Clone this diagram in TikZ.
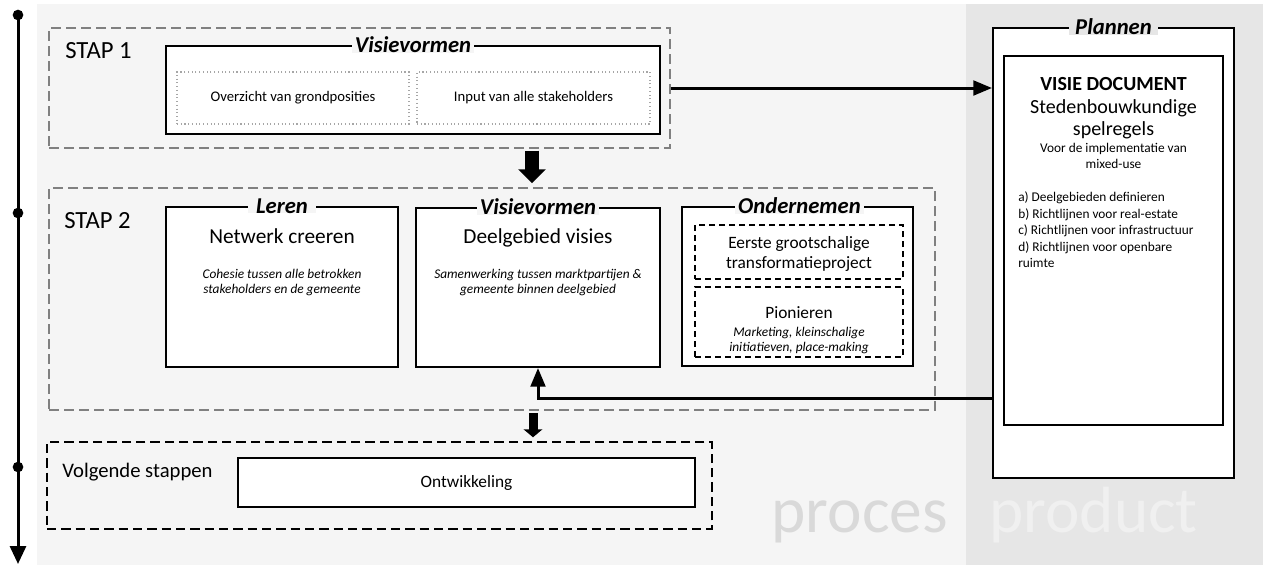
\documentclass[tikz,border=0pt]{standalone}
\usepackage{fontspec}
\setmainfont{Carlito}
\usetikzlibrary{arrows.meta, positioning, fit, calc}

\definecolor{procesbg}{RGB}{245,245,245}
\definecolor{productbg}{RGB}{230,230,230}
\definecolor{stapgray}{RGB}{128,128,128}
\definecolor{dotgray}{RGB}{166,166,166}
\definecolor{procesmark}{RGB}{217,217,217}
\definecolor{productmark}{RGB}{240,240,240}

\begin{document}
\begin{tikzpicture}[
  x=0.75pt, y=-0.75pt,
  stapbox/.style={draw=stapgray, line width=1.1pt, dash pattern=on 7.5pt off 3.75pt, inner sep=0pt},
  nextbox/.style={draw=black, line width=1.1pt, dash pattern=on 7pt off 3.75pt, inner sep=0pt},
  phasebox/.style={draw, line width=1.5pt, fill=white, inner sep=0pt},
  dotbox/.style={draw=dotgray, line width=0.8pt, dash pattern=on 0.8pt off 2pt, inner sep=0pt},
  dashbox/.style={draw, line width=1.1pt, dash pattern=on 4.5pt off 3pt, inner sep=0pt},
  phasetitle/.style={fill=procesbg, inner xsep=2.5pt, inner ysep=0pt, font=\fontsize{17}{20}\selectfont\bfseries\itshape},
  staplabel/.style={anchor=base west, inner sep=0pt, font=\fontsize{18.5}{22}\selectfont},
  heading/.style={anchor=base, inner sep=0pt, font=\fontsize{16}{19}\selectfont},
  subheading/.style={anchor=base, inner sep=0pt, font=\fontsize{13}{15}\selectfont},
  desc/.style={anchor=base, inner sep=0pt, font=\fontsize{10}{12}\selectfont\itshape},
  smalltext/.style={inner sep=0pt, font=\fontsize{11}{13}\selectfont},
  doctext/.style={anchor=base, inner sep=0pt, font=\fontsize{10}{12}\selectfont},
  watermark/.style={inner sep=0pt, font=\fontsize{49}{58}\selectfont},
  timedot/.style={circle, fill, inner sep=0pt, minimum size=8pt},
  timeline/.style={line width=2.25pt, -{Triangle[length=13.5pt, width=12pt]}},
  flowarrow/.style={line width=2.25pt, -{Triangle[length=14pt, width=11pt]}},
  fatarrow/.style={line width=11pt, -{Triangle[length=10.5pt, width=20pt]}, shorten <=1.5pt, shorten >=3pt},
  smallfatarrow/.style={line width=6.75pt, -{Triangle[length=6pt, width=14pt]}, shorten <=2pt, shorten >=3pt}
]

% Background: proces / product
\useasboundingbox (0,0) rectangle (1268,565);
\fill[procesbg] (37,4) rectangle (966,565);
\fill[productbg] (966,4) rectangle (1263,565);
\node[watermark, text=procesmark, anchor=base east] (proceslabel) at (948,532) {proces};
\node[watermark, text=productmark, anchor=base west] (productlabel) at (989,532) {product};

% Timeline
\node[timedot] (t1) at (18,15) {};
\node[timedot] (t2) at (18,213) {};
\node[timedot] (t3) at (18,467) {};
\coordinate (tend) at (18,564);
\draw[timeline] (t1.center) -- (tend);

% Stap 1
\node[stapbox, fit={(49,28) (670,148)}] (stap1) {};
\node[staplabel] (stap1label) at (65,58) {STAP 1};
\node[phasebox, fit={(166,46) (660,134)}] (vis1) {};
\node[phasetitle] (vis1title) at (vis1.north) {Visievormen};
\node[dotbox, fit={(177,72) (409,124)}] (grond) {};
\node[smalltext] (grondlabel) at (grond.center) {Overzicht van grondposities};
\node[dotbox, fit={(417,72) (650,124)}] (input) {};
\node[smalltext] (inputlabel) at (input.center) {Input van alle stakeholders};

% Stap 2
\node[stapbox, fit={(49,188) (935,410)}] (stap2) {};
\node[staplabel] (stap2label) at (64,228) {STAP 2};

\node[phasebox, fit={(166,207) (398,367)}] (leren) {};
\node[phasetitle, inner xsep=6pt] (lerentitle) at (leren.north) {Leren};
\node[heading] (netwerk) at (282,243) {Netwerk creeren};
\node[desc] (cohesie1) at (282,278) {Cohesie tussen alle betrokken};
\node[desc] (cohesie2) at (282,293) {stakeholders en de gemeente};

\node[phasebox, fit={(416,208) (660,367)}] (vis2) {};
\node[phasetitle] (vis2title) at (vis2.north) {Visievormen};
\node[heading] (deelgebied) at (538,243) {Deelgebied visies};
\node[desc] (samenwerking1) at (538,278) {Samenwerking tussen marktpartijen \&};
\node[desc] (samenwerking2) at (538,293) {gemeente binnen deelgebied};

\node[phasebox, fit={(682,207) (913,366)}] (onder) {};
\node[phasetitle] (ondertitle) at ([xshift=1.5pt]onder.north) {Ondernemen};
\node[dashbox, fit={(695,225) (903,279)}] (eerste) {};
\node[subheading] (eerste1) at (799,248) {Eerste grootschalige};
\node[subheading] (eerste2) at (799,268) {transformatieproject};
\node[dashbox, fit={(695,287) (903,357)}] (pionier) {};
\node[subheading] (pionier1) at (799,318) {Pionieren};
\node[desc] (pionier2) at (799,336) {Marketing, kleinschalige};
\node[desc] (pionier3) at (799,351) {initiatieven, place-making};

% Volgende stappen
\node[nextbox, fit={(47,442) (712,529)}] (next) {};
\node[staplabel, font=\fontsize{15.5}{18}\selectfont] (nextlabel) at (62,477) {Volgende stappen};
\node[phasebox, fit={(238,458) (695,507)}] (ontw) {};
\node[inner sep=0pt, font=\fontsize{13}{15}\selectfont] (ontwlabel) at (ontw.center) {Ontwikkeling};

% Plannen
\node[phasebox, fit={(993,28) (1234,478)}] (plannen) {};
\node[phasetitle, fill=productbg, inner xsep=5pt] (plannentitle) at (plannen.north) {Plannen};
\node[phasebox, fit={(1004,56) (1223,425)}] (visiedoc) {};
\node[heading, font=\fontsize{15}{18}\selectfont\bfseries] (doc1) at (1113.5,90) {VISIE DOCUMENT};
\node[heading, font=\fontsize{15}{18}\selectfont] (doc2) at (1113.5,113) {Stedenbouwkundige};
\node[heading, font=\fontsize{15}{18}\selectfont] (doc3) at (1113.5,135) {spelregels};
\node[doctext] (doc4) at (1113.5,152) {Voor de implementatie van};
\node[doctext] (doc5) at (1113.5,168) {mixed-use};
\node[doctext, anchor=base west] (lijst1) at (1018,201) {a) Deelgebieden definieren};
\node[doctext, anchor=base west] (lijst2) at (1018,218) {b) Richtlijnen voor real-estate};
\node[doctext, anchor=base west] (lijst3) at (1018,234) {c) Richtlijnen voor infrastructuur};
\node[doctext, anchor=base west] (lijst4) at (1018,251) {d) Richtlijnen voor openbare};
\node[doctext, anchor=base west] (lijst5) at (1018,267) {ruimte};

% Connections
\draw[flowarrow] (stap1.east) -- (stap1.east -| plannen.west);
\draw[fatarrow] (stap1.south -| 532,0) -- (stap2.north -| 532,0);
\draw[smallfatarrow] (stap2.south -| 533,0) -- (next.north -| 533,0);
\draw[flowarrow] (plannen.west |- 0,398) -| (vis2.south);

\end{tikzpicture}
\end{document}
